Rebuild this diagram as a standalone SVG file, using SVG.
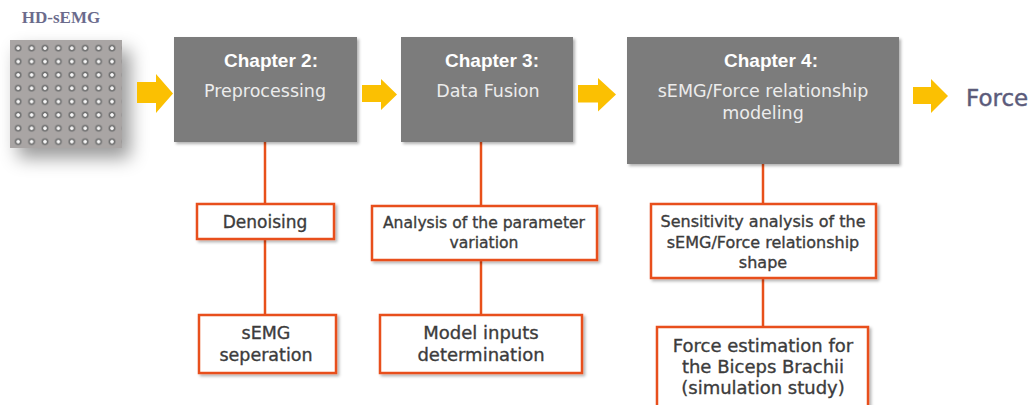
<svg xmlns="http://www.w3.org/2000/svg" width="1036" height="405" viewBox="0 0 1036 405">
<defs>
<filter id="gridShadow" x="-40%" y="-40%" width="190%" height="190%">
<feDropShadow dx="8" dy="10" stdDeviation="9" flood-color="#000" flood-opacity="0.4"/>
</filter>
<filter id="boxShadow" x="-10%" y="-10%" width="125%" height="125%">
<feDropShadow dx="2" dy="2" stdDeviation="1.5" flood-color="#000" flood-opacity="0.3"/>
</filter>
<radialGradient id="dot" cx="50%" cy="50%" r="50%">
<stop offset="0" stop-color="#ffffff"/>
<stop offset="0.4" stop-color="#f0f0f0"/>
<stop offset="0.6" stop-color="#666666"/>
<stop offset="1" stop-color="#858585"/>
</radialGradient>
<pattern id="dots" x="11.5" y="41.5" width="13.4" height="13.35" patternUnits="userSpaceOnUse">
<circle cx="6.7" cy="6.7" r="3.6" fill="url(#dot)"/>
</pattern>
</defs>
<style>
.chap{fill:#7b7b7b;filter:url(#boxShadow);}
.t1{font-family:"Liberation Sans",Arial,sans-serif;font-weight:bold;font-size:19px;fill:#ffffff;text-anchor:middle;}
.t2{font-family:"DejaVu Sans",Verdana,sans-serif;font-size:17.5px;fill:#ececec;text-anchor:middle;}
.sub{fill:#ffffff;stroke:#e8501a;stroke-width:2.5;filter:url(#boxShadow);}
.st{font-family:"DejaVu Sans",Verdana,sans-serif;fill:#3c3c3c;stroke:#3c3c3c;stroke-width:0.35;text-anchor:middle;}
.arrow{fill:#fbc002;}
.conn{stroke:#e8501a;stroke-width:2.5;fill:none;}
</style>

<g id="hd-semg">
<text x="61" y="23" font-family="'Liberation Serif','Times New Roman',serif" font-weight="bold" font-size="17" fill="#6b6b8c" text-anchor="middle">HD-sEMG</text>
<rect x="10" y="40" width="112" height="108" fill="#a9a5a4" filter="url(#gridShadow)"/>
<rect x="10" y="40" width="112" height="108" fill="url(#dots)"/>
</g>

<g id="arrows">
<polygon class="arrow" points="137,82 156,82 156,74 173,93.5 156,113 156,103 137,103"/>
<polygon class="arrow" points="362,85 381,85 381,79 397,94.5 381,110 381,102 362,102"/>
<polygon class="arrow" points="578,85 598,85 598,78 616,94.5 598,111.5 598,102.5 578,102.5"/>
<polygon class="arrow" points="913,87 931,87 931,79 948,96 931,113 931,104 913,104"/>
</g>

<g id="connectors">
<line class="conn" x1="265" y1="142" x2="265" y2="204"/>
<line class="conn" x1="265" y1="239" x2="265" y2="315"/>
<line class="conn" x1="481" y1="142" x2="481" y2="206"/>
<line class="conn" x1="481" y1="260" x2="481" y2="315"/>
<line class="conn" x1="763" y1="164" x2="763" y2="204"/>
<line class="conn" x1="763" y1="278" x2="763" y2="327"/>
</g>

<g id="chapter2">
<rect class="chap" x="174" y="37" width="183" height="105"/>
<text class="t1" x="271" y="67">Chapter 2:</text>
<text class="t2" x="265" y="97">Preprocessing</text>
</g>

<g id="chapter3">
<rect class="chap" x="401" y="37" width="172" height="105"/>
<text class="t1" x="492" y="67">Chapter 3:</text>
<text class="t2" x="488" y="97">Data Fusion</text>
</g>

<g id="chapter4">
<rect class="chap" x="627" y="37" width="272" height="127"/>
<text class="t1" x="771" y="67">Chapter 4:</text>
<text class="t2" x="763" y="97">sEMG/Force relationship</text>
<text class="t2" x="763" y="119">modeling</text>
</g>

<g id="force">
<text x="966" y="106" font-family="'DejaVu Sans',Verdana,sans-serif" font-size="23" fill="#5b5b7a" stroke="#5b5b7a" stroke-width="0.4">Force</text>
</g>

<g id="denoising">
<rect class="sub" x="197" y="204" width="137" height="35"/>
<text class="st" x="265" y="228" font-size="17">Denoising</text>
</g>

<g id="semg-separation">
<rect class="sub" x="199" y="315" width="137" height="58"/>
<text class="st" x="266" y="339" font-size="17.5">sEMG</text>
<text class="st" x="266" y="361" font-size="17.5">seperation</text>
</g>

<g id="analysis">
<rect class="sub" x="372" y="206" width="225" height="54"/>
<text class="st" x="484" y="228" font-size="15.6">Analysis of the parameter</text>
<text class="st" x="484" y="248" font-size="15.6">variation</text>
</g>

<g id="model-inputs">
<rect class="sub" x="380" y="315" width="202" height="58"/>
<text class="st" x="481" y="339" font-size="18">Model inputs</text>
<text class="st" x="481" y="361" font-size="18">determination</text>
</g>

<g id="sensitivity">
<rect class="sub" x="651" y="204" width="225" height="74"/>
<text class="st" x="763" y="227" font-size="16">Sensitivity analysis of the</text>
<text class="st" x="763" y="248" font-size="16">sEMG/Force relationship</text>
<text class="st" x="763" y="268" font-size="16">shape</text>
</g>

<g id="force-estimation">
<rect class="sub" x="657" y="327" width="211" height="90"/>
<text class="st" x="763" y="352" font-size="18">Force estimation for</text>
<text class="st" x="763" y="373" font-size="18">the Biceps Brachii</text>
<text class="st" x="763" y="394" font-size="18">(simulation study)</text>
</g>
</svg>
